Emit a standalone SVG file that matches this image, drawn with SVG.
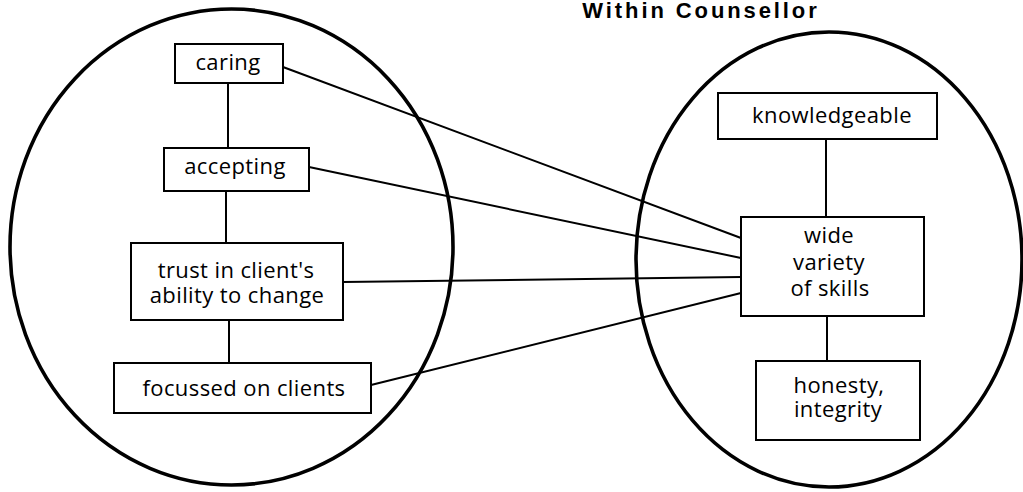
<svg xmlns="http://www.w3.org/2000/svg" width="1023" height="492" viewBox="0 0 1023 492">
<style>
.bg{fill:#fff}
.ell{fill:none;stroke:#000;stroke-width:3.6}
.box{fill:#fff;stroke:#000;stroke-width:2}
.conn line{stroke:#000;stroke-width:2}
text{font-family:"Open Sans","Noto Sans","DejaVu Sans",sans-serif;font-size:22px;fill:#000;text-anchor:middle;letter-spacing:0.4px}
.title{font-family:"Liberation Sans",Arial,sans-serif;font-weight:bold;font-size:22px;letter-spacing:2.9px}
</style>
<rect class="bg" x="0" y="0" width="1023" height="492"/>
<text class="title" x="701" y="18">Within Counsellor</text>
<g id="circles">
<ellipse class="ell" cx="231.5" cy="247" rx="221.5" ry="238"/>
<ellipse class="ell" cx="829" cy="259.5" rx="193" ry="227.5"/>
</g>
<g id="connectors" class="conn">
<line x1="228" y1="83" x2="228" y2="148"/>
<line x1="226" y1="191" x2="226" y2="243"/>
<line x1="229" y1="320" x2="229" y2="363"/>
<line x1="826" y1="139" x2="826" y2="217"/>
<line x1="827" y1="316" x2="827" y2="361"/>
<line x1="283" y1="67" x2="741" y2="238"/>
<line x1="309" y1="167" x2="741" y2="258"/>
<line x1="343" y1="282" x2="741" y2="277"/>
<line x1="371" y1="385" x2="741" y2="293"/>
</g>
<g id="caring">
<rect class="box" x="175" y="44" width="108" height="39"/>
<text x="228" y="70">caring</text>
</g>
<g id="accepting">
<rect class="box" x="164" y="148" width="145" height="43"/>
<text x="235" y="174">accepting</text>
</g>
<g id="trust">
<rect class="box" x="131" y="243" width="212" height="77"/>
<text x="236" y="278">trust in client's<tspan x="237" dy="25">ability to change</tspan></text>
</g>
<g id="focussed">
<rect class="box" x="114" y="363" width="257" height="50"/>
<text x="244" y="396">focussed on clients</text>
</g>
<g id="knowledgeable">
<rect class="box" x="718" y="93" width="219" height="46"/>
<text x="832" y="123">knowledgeable</text>
</g>
<g id="wide">
<rect class="box" x="741" y="217" width="183" height="99"/>
<text x="829" y="243">wide<tspan x="829" dy="27">variety</tspan><tspan x="830" dy="26">of skills</tspan></text>
</g>
<g id="honesty">
<rect class="box" x="756" y="361" width="164" height="79"/>
<text x="839" y="393">honesty,<tspan x="838" dy="24">integrity</tspan></text>
</g>
</svg>
